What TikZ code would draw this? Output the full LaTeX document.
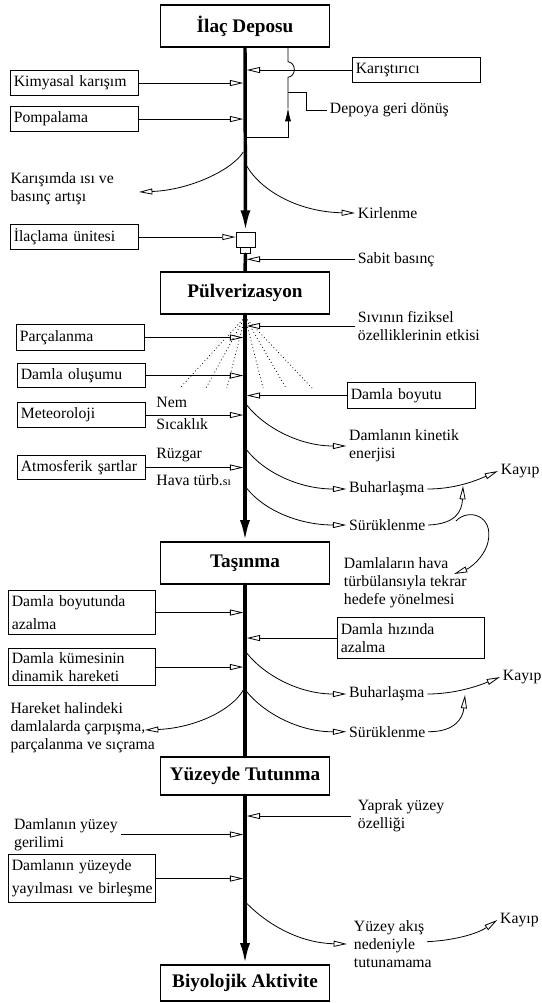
\documentclass[tikz,border=0pt]{standalone}
\usepackage{fontspec}
\setmainfont{Liberation Serif}
\usetikzlibrary{arrows.meta}

\begin{document}
\begin{tikzpicture}[x=0.75pt, y=-0.75pt,
    every node/.style={font=\fontsize{11.8}{13.5}\selectfont},
    stage/.style={draw, line width=0.8pt, minimum width=126.75pt, minimum height=31.5pt, inner sep=0pt, font=\fontsize{14.4}{16}\selectfont\bfseries},
    sidebox/.style={draw, line width=0.8pt, anchor=north west, inner xsep=2.5pt, inner ysep=0pt, align=left, text width=#1},
    sidebox/.default=91pt,
    lbl/.style={anchor=west, inner xsep=2pt, inner ysep=0pt, align=left},
    lblgap/.style={lbl, inner xsep=5pt},
    flow/.style={line width=2.6pt, line cap=round},
    flowarrow/.style={flow, -{Latex[length=16pt, width=7.5pt]}},
    feed/.style={line width=0.6pt, -{Triangle[open, length=10pt, width=4.5pt]}},
    plain/.style={line width=0.6pt},
    spray/.style={line width=0.6pt, dotted},
]
\useasboundingbox (0,0) rectangle (542,1003);

% main stages
\node[stage] (depot) at (245,26) {İlaç Deposu};
\node[stage] (pulv) at (245,293) {Pülverizasyon};
\node[stage] (tasin) at (245,563) {Taşınma};
\node[stage, minimum height=28.5pt] (tutun) at (245,776) {Yüzeyde Tutunma};
\node[stage, minimum height=27pt] (bio) at (245,983) {Biyolojik Aktivite};

% nozzle
\node[draw, line width=0.6pt, fill=white, minimum width=14.25pt, minimum height=11.25pt, inner sep=0pt] (noz) at (245.5,239.5) {};
\node[draw, line width=0.6pt, fill=white, minimum width=7.5pt, minimum height=4.5pt, inner sep=0pt, anchor=north] (nozcap) at (noz.south) {};

% axis edges
\coordinate (axL) at (243.3,0);
\coordinate (axR) at (246.7,0);

% side boxes
\node[sidebox, minimum height=18.75pt] (kimya) at (10,70) {Kimyasal karışım};
\node[sidebox, minimum height=18.75pt] (pompa) at (10,106) {Pompalama};
\node[sidebox, minimum height=18.75pt] (karis) at (352,57) {Karıştırıcı};
\node[sidebox, minimum height=18.75pt] (unite) at (10,224) {İlaçlama ünitesi};
\node[sidebox, minimum height=19.5pt] (parca) at (16,324) {Parçalanma};
\node[sidebox, minimum height=18pt] (olusum) at (17,363) {Damla oluşumu};
\node[sidebox, minimum height=19.5pt] (boyut) at (347,382) {Damla boyutu};
\node[sidebox, minimum height=18.75pt] (meteo) at (17,402) {Meteoroloji};
\node[sidebox, minimum height=18pt] (atmos) at (17,455) {Atmosferik şartlar};
\node[sidebox=105pt, minimum height=33pt] (azal) at (8,590) {Damla boyutunda\\[4pt]azalma};
\node[sidebox=105pt, minimum height=30.75pt] (hiz) at (337,617) {Damla hızında\\azalma};
\node[sidebox=105pt, minimum height=27.75pt] (kume) at (8,648) {Damla kümesinin\\dinamik hareketi};
\node[sidebox=105pt, minimum height=36pt] (yayil) at (8,854) {Damlanın yüzeyde\\[4pt]\mbox{yayılması ve birleşme}};

% free labels
\node[lbl] (retlbl) at (327,110) {Depoya geri dönüş};
\node[lbl] (karlbl) at (7.7,189) {Karışımda ısı ve\\basınç artışı};
\node[lbl] (kir) at (355,213) {Kirlenme};
\node[lbl] (sabit) at (355,259.3) {Sabit basınç};
\node[lbl] (sivi) at (355,326) {Sıvının fiziksel\\özelliklerinin etkisi};
\node[lbl] (nem) at (153.5,402.7) {Nem};
\node[lbl] (sicak) at (153.5,424.3) {Sıcaklık};
\node[lbl] (ruzg) at (153.5,455) {Rüzgar};
\node[lbl] (turb) at (153.5,480) {Hava türb.{\fontsize{9}{10}\selectfont sı}};
\node[lbl] (kin) at (346.3,446) {Damlanın kinetik\\enerjisi};
\node[lbl] (buh1) at (346.3,489) {Buharlaşma};
\node[lbl] (kay1) at (498,471) {Kayıp};
\node[lbl] (surk1) at (346.3,525) {Sürüklenme};
\node[lbl] (hedef) at (341,583) {Damlaların hava\\türbülansıyla tekrar\\hedefe yönelmesi};
\node[lbl] (buh2) at (346.3,694) {Buharlaşma};
\node[lbl] (kay2) at (500,677) {Kayıp};
\node[lbl] (surk2) at (346.3,731.7) {Sürüklenme};
\node[lbl] (hareket) at (7.7,728) {Hareket halindeki\\damlalarda çarpışma,\\parçalanma ve sıçrama};
\node[lblgap] (yaprak) at (351,816) {Yaprak yüzey\\özelliği};
\node[lbl] (gerilim) at (11.2,834.5) {Damlanın yüzey\\gerilimi};
\node[lblgap] (akis) at (347,944) {Yüzey akış\\nedeniyle\\tutunamama};
\node[lbl] (kay3) at (497.3,920) {Kayıp};

% spray fan
\coordinate (spr) at (245,317);
\foreach \sx in {180,206,227,263,286,312}
  \draw[spray] (spr) -- (\sx,388);

% main flow
\draw[flowarrow] (depot.south) -- (noz.north);
\draw[flow] (nozcap.south) -- (pulv.north);
\draw[flowarrow] (pulv.south) -- (tasin.north);
\draw[flow] (tasin.south) -- (tutun.north);
\draw[flowarrow] (tutun.south) -- (bio.north);

% return to tank
\coordinate (retB) at (288,137.3);
\coordinate (retA) at (288,108);
\coordinate (retT) at (288,92.7);
\draw[plain, -{Latex[length=10pt, width=4.5pt]}] (retB -| axR) -- (retB) -- (retA);
\draw[plain] (retA) -- (288,77.3) .. controls (296.5,76) and (296.5,63) .. (288,61.7) -- (depot.south -| retB);
\draw[plain] (retT) -| (306.7,110) -- (retlbl.west);

% inputs
\draw[feed] (karis.west) -- (karis.west -| axR);
\draw[feed] (kimya.east) -- (kimya.east -| axL);
\draw[feed] (pompa.east) -- (pompa.east -| axL);
\draw[feed] (unite.east) -- (unite.east -| noz.west);
\draw[feed] (sabit.west) -- (sabit.west -| axR);
\draw[feed] (sivi.west) -- (sivi.west -| axR);
\draw[feed] (parca.east) -- (parca.east -| axL);
\draw[feed] (olusum.east) -- (olusum.east -| axL);
\draw[feed] (boyut.west) -- (boyut.west -| axR);
\draw[feed] (meteo.east) -- (meteo.east -| axL);
\draw[feed] (atmos.east) -- (atmos.east -| axL);
\draw[feed] (azal.east) -- (azal.east -| axL);
\draw[feed] (hiz.west) -- (hiz.west -| axR);
\draw[feed] (kume.east) -- (kume.east -| axL);
\draw[feed] (yaprak.west) -- (yaprak.west -| axR);
\draw[feed] (gerilim.east) -- (gerilim.east -| axL);
\draw[feed] (yayil.east) -- (yayil.east -| axL);

% outputs
\coordinate (karS) at (243.3,152);
\coordinate (karTip) at (139,192);
\draw[feed] (karS) .. controls (232,170) and (190,190) .. (karTip);
\coordinate (kirS) at (246.7,166);
\draw[feed] (kirS) .. controls (262,192) and (300,212) .. (kir.west);
\coordinate (kinS) at (246.7,405);
\draw[feed] (kinS) .. controls (265,428) and (300,446) .. (kin.west);
\coordinate (buh1S) at (246.7,450);
\draw[feed] (buh1S) .. controls (265,473) and (300,489) .. (buh1.west);
\coordinate (surk1S) at (246.7,488.3);
\draw[feed] (surk1S) .. controls (265,511) and (300,525) .. (surk1.west);
\coordinate (buh2S) at (246.7,653);
\draw[feed] (buh2S) .. controls (265,676) and (300,694) .. (buh2.west);
\coordinate (surk2S) at (246.7,691.7);
\draw[feed] (surk2S) .. controls (265,714) and (300,732) .. (surk2.west);
\coordinate (harS) at (243.3,690);
\coordinate (harTip) at (145,730);
\draw[feed] (harS) .. controls (232,710) and (195,728) .. (harTip);
\coordinate (akisS) at (246.7,903.3);
\draw[feed] (akisS) .. controls (268,925) and (300,943) .. (akis.west);

% losses
\coordinate (j1) at (463,486);
\coordinate (br1) at (456,521);
\coordinate (hedTip) at (454,574);
\draw[feed] (buh1.east) .. controls (455,489) and (475,481) .. (kay1.west);
\draw[feed] (surk1.east) .. controls (455,524) and (462,512) .. (j1);
\draw[feed] (br1) .. controls (468,508) and (494,515) .. (488,542) .. controls (484,558) and (470,568) .. (hedTip);
\coordinate (j2) at (465,695);
\draw[feed] (buh2.east) .. controls (455,694) and (478,686) .. (kay2.west);
\draw[feed] (surk2.east) .. controls (455,732) and (463,718) .. (j2);
\coordinate (akE) at (427,941.7);
\draw[feed] (akE) .. controls (460,940) and (480,932) .. (kay3.west);

\end{tikzpicture}
\end{document}
